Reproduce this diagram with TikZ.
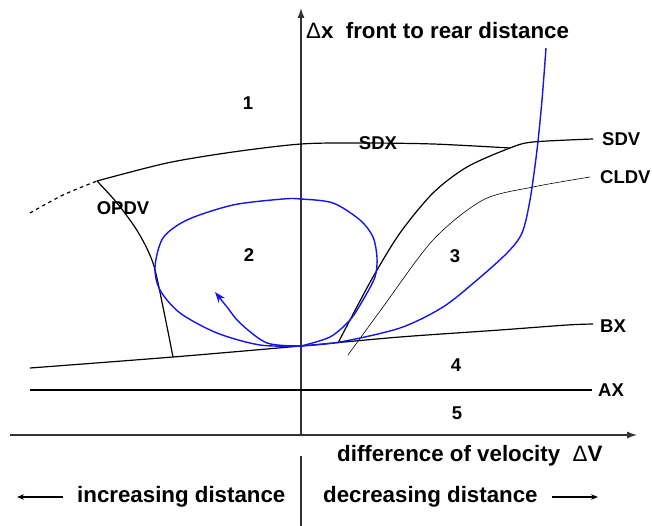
\documentclass[tikz,border=0pt]{standalone}
\usepackage{fontspec}
\setmainfont{Liberation Sans}
\usetikzlibrary{arrows.meta}
\begin{document}
\begin{tikzpicture}[x=1pt,y=-1pt,
  lbl/.style={font=\bfseries\fontsize{18.5}{20}\selectfont, inner sep=0pt},
  biglbl/.style={font=\bfseries\fontsize{22.3}{24}\selectfont, inner sep=0pt},
  axis/.style={line width=1.2pt, draw=black!80},
  curve/.style={line width=1.2pt},
  thin curve/.style={line width=0.6pt},
  bluec/.style={line width=1.4pt, draw={rgb,255:red,20;green,20;blue,235}},
  axtip/.style={-{Latex[length=10pt,width=7pt]}}]
\useasboundingbox (0,0) rectangle (652,526);
% axes
\coordinate (O) at (301,346);
\coordinate (yb) at (301,435);
\coordinate (yt) at (301,8);
\coordinate (xl) at (10,435);
\coordinate (xr) at (637,435);
\draw[axis,axtip] (yb) -- (yt);
\draw[axis,axtip] (xl) -- (xr);
\coordinate (s1) at (301,456);
\coordinate (s2) at (301,526);
\draw[axis] (s1) -- (s2);
% AX
\coordinate (ax1) at (30,390);
\coordinate (ax2) at (592,390);
\draw[curve] (ax1) -- (ax2);
% BX
\draw[curve] plot[smooth] coordinates {(30,368) (173,357) (301,346) (400,337) (500,330) (567,325) (593,324)};
% SDX
\draw[curve] plot[smooth] coordinates {(97,181) (167,163) (233,152) (301,144) (360,143) (433,144) (510,148)};
\draw[curve,dash pattern=on 3.5pt off 3.5pt] plot[smooth] coordinates {(30,213) (63,195) (97,181)};
% OPDV
\draw[curve] plot[smooth] coordinates {(97,181) (117,203) (138,232) (153,263) (163,307) (173,357)};
% SDV
\draw[curve] plot[smooth] coordinates {(338,343) (350,320) (373,277) (400,233) (433,193) (467,167) (510,148) (533,142) (593,139)};
% CLDV
\draw[thin curve] plot[smooth] coordinates {(348,355) (383,307) (433,240) (483,200) (533,187) (590,177)};
% blue trajectory
\draw[bluec] plot[smooth] coordinates {(546,48) (542,100) (537,150) (530,200) (522,233) (507,253) (477,280) (443,307) (400,328) (340,342) (301,346)};
\draw[bluec] plot[smooth] coordinates {(301,346) (330,337) (350,320) (363,300) (375,277) (377,258) (373,237) (360,220) (333,203) (301,199) (283,199) (233,205) (187,220) (163,238) (155,267) (160,290) (180,313) (217,333) (260,345) (301,346)};
\draw[bluec,-{Stealth[length=11pt,width=8pt]}] plot[smooth] coordinates {(301,346) (267,343) (240,323) (227,307) (215,292)};
% labels
\node[biglbl,anchor=west] (ylab) at (306,31) {{\mdseries Δ}x\ \ front to rear distance};
\node[biglbl,anchor=west] (xlab) at (337,456) {difference of velocity\ \ {\mdseries Δ}V};
\node[biglbl,anchor=west] (inc) at (77,497) {increasing distance};
\node[biglbl,anchor=west] (dec) at (323,497) {decreasing distance};
\coordinate (la1) at (63,497);
\coordinate (la2) at (17,497);
\coordinate (ra1) at (552,497);
\coordinate (ra2) at (598,497);
\draw[line width=1.1pt,-{Stealth[length=7pt,width=5.5pt]}] (la1) -- (la2);
\draw[line width=1.1pt,-{Stealth[length=7pt,width=5.5pt]}] (ra1) -- (ra2);
\node[lbl] (r1) at (248,103) {1};
\node[lbl] (r2) at (249,255) {2};
\node[lbl] (r3) at (455,256) {3};
\node[lbl] (r4) at (456,365) {4};
\node[lbl] (r5) at (457,413) {5};
\node[lbl] (sdx) at (378,143) {SDX};
\node[lbl] (opdv) at (123,208) {OPDV};
\node[lbl,anchor=west] (sdv) at (602,139) {SDV};
\node[lbl,anchor=west] (cldv) at (600,177) {CLDV};
\node[lbl,anchor=west] (bx) at (600,326) {BX};
\node[lbl,anchor=west] (axl) at (598,390) {AX};
\end{tikzpicture}
\end{document}
